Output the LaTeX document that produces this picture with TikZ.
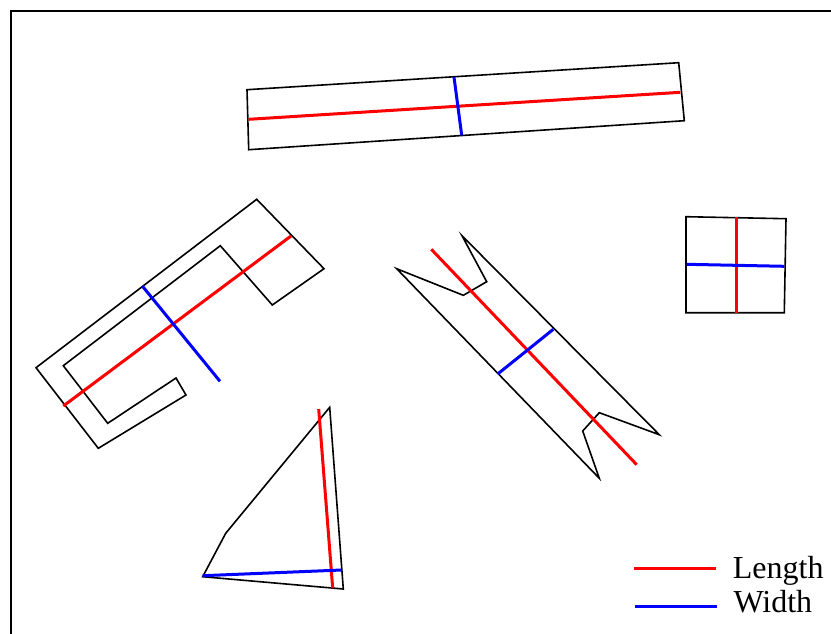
\documentclass[tikz,border=0pt]{standalone}
\usepackage{fontspec}
\setmainfont{Liberation Serif}
\usetikzlibrary{positioning}
\tikzset{
  outline/.style={draw=black,line width=1.6pt,line join=miter},
  lenline/.style={red,line width=3pt},
  widline/.style={blue,line width=3pt},
  legtext/.style={anchor=base west,inner sep=0pt,font=\fontsize{32}{36}\selectfont}
}

\begin{document}
\begin{tikzpicture}[x=1pt,y=-1pt]
  \useasboundingbox (0,0) rectangle (831,633);
  % outer frame (only top and left edge inside the page)
  \draw[line width=2pt] (11,650) -- (11,11) -- (850,11);
  % long thin bar at the top
  \draw[outline] (247,89.7) -- (678.7,62.7) -- (684.3,120.7) -- (248.7,149.7) -- cycle;
  \draw[lenline] (248.7,119.3) -- (680.3,92.3);
  \draw[widline] (454,77) -- (461.7,135.3);
  % square on the right
  \draw[outline] (686,216.7) -- (786,218.7) -- (784.3,312.7) -- (686,312.7) -- cycle;
  \draw[lenline] (736,217) -- (736,313.3);
  \draw[widline] (686.7,264.3) -- (784.3,266.3);
  % hook shaped part
  \draw[outline] (256.7,199.3) -- (324,268.7) -- (272.3,305) -- (220.3,245.7)
    -- (63.3,365.7) -- (107.7,423.3) -- (176,378) -- (186,395)
    -- (98.3,448.3) -- (36,367.7) -- cycle;
  \draw[lenline] (291,236) -- (63.3,406);
  \draw[widline] (142.3,286) -- (220,381.3);
  % notched strip in the middle
  \draw[outline] (462,235.7) -- (486.7,281.7) -- (463.3,295.3) -- (396.7,268.7)
    -- (599.3,478.3) -- (582.7,431) -- (599.3,412.7) -- (659.3,434.7) -- cycle;
  \draw[lenline] (431.3,249.3) -- (636.7,464.7);
  \draw[widline] (553.3,329.3) -- (497.7,374);
  % triangle at the bottom
  \draw[outline] (329.7,407.3) -- (343.3,589) -- (202.7,576.7) -- (225.7,533.3) -- cycle;
  \draw[lenline] (318.7,409) -- (332.7,588.3);
  \draw[widline] (202.7,575.7) -- (341.7,570);
  % legend
  \node[legtext] (lenlabel) at (732.7,578.3) {Length};
  \node[legtext] (widlabel) at (733.3,612.3) {Width};
  \coordinate (lenstart) at (634,568.7);
  \coordinate (widstart) at (635,606);
  \draw[lenline] (lenstart) -- ([xshift=-17pt]lenstart -| lenlabel.west);
  \draw[widline] (widstart) -- ([xshift=-16.6pt]widstart -| widlabel.west);
\end{tikzpicture}
\end{document}
